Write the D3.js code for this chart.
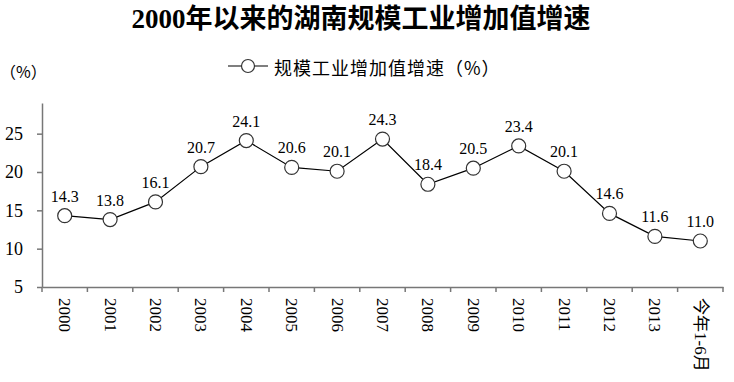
<!DOCTYPE html>
<html>
<head>
<meta charset="utf-8">
<script src="https://cdn.jsdelivr.net/npm/d3@7"></script>
<style>
  body { margin: 0; background: #fff; }
  svg { display: block; }
</style>
</head>
<body>
<svg id="chart" width="734" height="382"></svg>
<script>
const years = ['2000', '2001', '2002', '2003', '2004', '2005', '2006', '2007', '2008', '2009', '2010', '2011', '2012', '2013', '今年1-6月']
const growth = [14.3, 13.8, 16.1, 20.7, 24.1, 20.6, 20.1, 24.3, 18.4, 20.5, 23.4, 20.1, 14.6, 11.6, 11.0]
const yTicks = [5, 10, 15, 20, 25]

const serif = '"Liberation Serif", "Times New Roman", "Noto Sans CJK SC", serif'
const cjk = '"Noto Sans CJK SC", sans-serif'

const svg = d3.select('#chart')
const plot = { left: 42, right: 723, top: 103, bottom: 287 }

let x = d3.scaleBand()
    .domain(years)
    .range([plot.left, plot.right])

let y = d3.scaleLinear()
    .domain([5, 29])
    .range([plot.bottom, plot.top])

// title
svg.append('text')
    .attr('x', 361)
    .attr('y', 28)
    .attr('text-anchor', 'middle')
    .style('font-family', serif)
    .style('font-weight', 'bold')
    .style('font-size', '27px')
    .text('2000年以来的湖南规模工业增加值增速')

// unit label
svg.append('text')
    .attr('x', 0)
    .attr('y', 71)
    .attr('dominant-baseline', 'central')
    .style('font-family', cjk)
    .style('font-size', '16px')
    .text('（%）')

// legend
const legend = svg.append('g')
legend.append('line')
    .attr('x1', 228).attr('x2', 268)
    .attr('y1', 66).attr('y2', 66)
    .attr('stroke', '#000')
    .attr('stroke-width', 1.2)
legend.append('circle')
    .attr('cx', 248).attr('cy', 66).attr('r', 6.5)
    .attr('fill', '#fff')
    .attr('stroke', '#333')
    .attr('stroke-width', 1.2)
legend.append('text')
    .attr('x', 274)
    .attr('y', 67)
    .attr('dominant-baseline', 'central')
    .style('font-family', cjk)
    .style('font-size', '18px')
    .style('letter-spacing', '1px')
    .text('规模工业增加值增速（%）')

// y axis
const yAxis = svg.append('g')
    .attr('transform', `translate(${plot.left},0)`)
    .call(d3.axisLeft(y).tickValues(yTicks).tickSize(5).tickPadding(14).tickSizeOuter(0))
yAxis.select('.domain').attr('stroke', '#777').attr('stroke-width', 1.5)
yAxis.selectAll('.tick line').attr('stroke', '#777').attr('stroke-width', 1.5)
yAxis.selectAll('.tick text')
    .style('font-family', serif)
    .style('font-size', '18px')
    .attr('fill', '#000')

// x axis
const xAxis = svg.append('g')
    .attr('transform', `translate(0,${plot.bottom})`)
    .call(d3.axisBottom(x).tickSize(0).tickFormat(''))
xAxis.select('.domain').attr('stroke', '#777').attr('stroke-width', 1.5)

// ticks at band edges
const edges = years.map(d => x(d)).concat([plot.right])
svg.append('g')
    .selectAll('line')
    .data(edges)
    .join('line')
    .attr('x1', d => d).attr('x2', d => d)
    .attr('y1', plot.bottom).attr('y2', plot.bottom + 5)
    .attr('stroke', '#777')
    .attr('stroke-width', 1.5)

// category labels, rotated
svg.append('g')
    .selectAll('text')
    .data(years)
    .join('text')
    .attr('transform', d => `translate(${x(d) + x.bandwidth() / 2},298) rotate(90)`)
    .attr('dominant-baseline', 'central')
    .style('font-family', serif)
    .style('font-size', '17px')
    .text(d => d)

// line
const cx = (d, i) => x(years[i]) + x.bandwidth() / 2
svg.append('path')
    .datum(growth)
    .attr('fill', 'none')
    .attr('stroke', '#000')
    .attr('stroke-width', 1.2)
    .attr('d', d3.line().x(cx).y(d => y(d)))

svg.append('g')
    .selectAll('circle')
    .data(growth)
    .join('circle')
    .attr('cx', cx)
    .attr('cy', d => y(d))
    .attr('r', 7)
    .attr('fill', '#fff')
    .attr('stroke', '#333')
    .attr('stroke-width', 1.2)

svg.append('g')
    .selectAll('text')
    .data(growth)
    .join('text')
    .attr('x', cx)
    .attr('y', d => y(d) - 14)
    .attr('text-anchor', 'middle')
    .style('font-family', serif)
    .style('font-size', '16px')
    .text(d => d.toFixed(1))
</script>
</body>
</html>
